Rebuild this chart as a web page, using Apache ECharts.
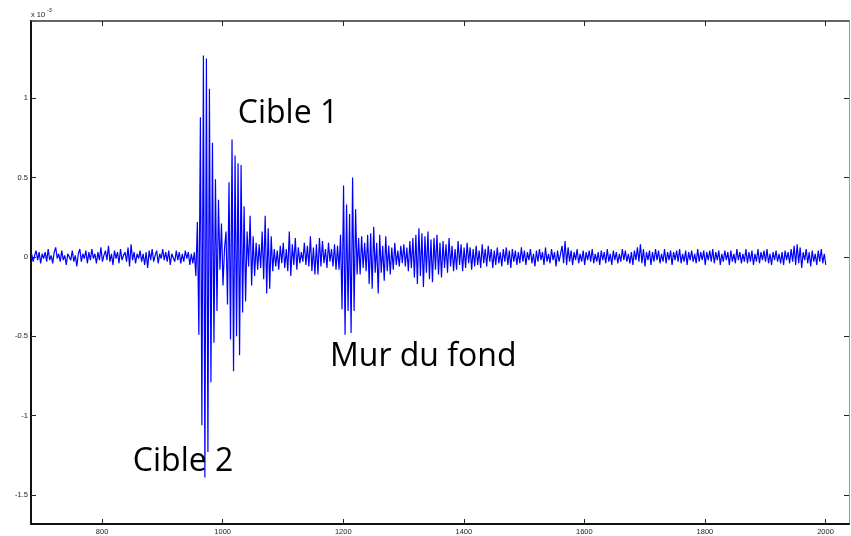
<!DOCTYPE html>
<html>
<head>
<meta charset="utf-8">
<title>Signal</title>
<script src="https://cdn.jsdelivr.net/npm/echarts@6/dist/echarts.min.js"></script>
<style>
  html, body { margin: 0; padding: 0; background: #fff; }
  #chart { width: 851px; height: 536px; }
</style>
</head>
<body>
<div id="chart"></div>
<script>
// Received signal amplitude (x 10^-3), sampled every 2.5 samples.
const sampleStep = 2.5;

// Background noise before the first echoes (starts at sample 683)
const quietLeadStart = 683;
const quietLead = [
  0.02,-0.03,0.01,0.04,-0.02,0.03,-0.04,0.02,-0.01,0.03,-0.03,0.05,-0.02,0.01,-0.04,0.03,0.06,-0.01,0.02,-0.03,0.04,-0.02,0.01,-0.05,0.02,
  0.03,-0.02,0.04,-0.03,0.01,-0.06,0.02,0.05,-0.03,0.02,-0.01,0.04,-0.04,0.03,-0.02,0.05,-0.01,0.02,-0.04,0.03,-0.02,0.06,-0.03,0.01,0.04,
  -0.02,0.07,-0.03,0.02,-0.05,0.04,-0.01,0.03,-0.04,0.05,-0.02,0.01,0.03,-0.03,0.06,-0.06,0.08,-0.02,0.03,-0.04,0.02,-0.01,0.04,-0.03,0.02,
  -0.05,0.03,-0.07,0.04,-0.02,0.05,-0.03,0.01,0.04,-0.04,0.02,-0.01,0.05,-0.02,0.03,-0.03,0.04,-0.05,0.02,0.01,-0.03,0.04,-0.02,0.03,-0.04,
  0.02,-0.03,0.04,-0.01,0.03,-0.05,0.02,-0.04,0.03
];

// Echoes of target 2 and target 1
const targetEchoStart = 955.5;
const targetEcho = [
  -0.12,0.22,-0.49,0.88,-1.06,1.27,-1.39,1.25,-1.23,1.06,-0.79,0.72,-0.54,0.49,-0.34,0.36,-0.08,0.21,-0.18,0.05,
  0.16,-0.30,0.47,-0.52,0.74,-0.72,0.64,-0.50,0.59,-0.62,0.58,-0.35,0.32,-0.28,0.16,-0.06,0.26,-0.18,0.13,-0.12,
  0.09,-0.08,0.08,-0.07,0.16,-0.14,0.26,-0.23,0.18,-0.20,0.13,-0.09
];

// Between the targets and the back wall
const midSpanStart = 1085.5;
const midSpan = [
  0.05,-0.06,0.04,-0.08,0.07,-0.04,0.09,-0.07,0.05,-0.09,0.16,-0.12,0.08,-0.05,0.12,-0.08,0.06,-0.04,0.03,-0.03,
  0.09,-0.05,0.07,-0.06,0.13,-0.09,0.06,-0.11,0.08,-0.11,0.12,-0.06,0.10,-0.04,0.05,-0.07,0.09,-0.03,0.05,-0.06,
  0.08,-0.08,0.07,-0.08
];

// Back wall echo
const wallEchoStart = 1195.5;
const wallEcho = [
  0.14,-0.33,0.45,-0.49,0.33,-0.34,0.27,-0.48,0.50,-0.34,0.30,-0.11,0.12,-0.11,0.13,-0.07,0.09,-0.09,0.14,-0.17,
  0.15,-0.20,0.19,-0.10,0.09,-0.23,0.14,-0.10,0.07
];

// Reverberation tail after the wall
const wallTailStart = 1268;
const wallTail = [
  -0.15,0.13,-0.09,0.07,-0.11,0.06,-0.08,0.09,-0.05,0.04,-0.06,0.07,-0.04,0.08,-0.06,0.06,-0.09,0.10,-0.07,0.12,
  -0.13,0.14,-0.17,0.18,-0.12,0.15,-0.19,0.13,-0.10,0.16,-0.14,0.11,-0.16,0.12,-0.08,0.14,-0.11,0.09,-0.13,0.10,
  -0.07,0.08,-0.10,0.12,-0.06,0.07,-0.09,0.05,-0.08,0.10,-0.05,0.08,-0.09,0.06,-0.07,0.09,-0.04,0.06,-0.08,0.05,
  -0.06,0.07,-0.05,0.04,-0.07,0.08,-0.04,0.05,-0.06,0.07,-0.03,0.05,-0.07,0.04,-0.05,0.06,-0.04,0.03,-0.06,0.05,
  -0.03,0.06,-0.05,0.04,-0.07,0.05,-0.03,0.04,-0.05,0.03,-0.04,0.06,-0.03
];

// Late noise floor
const farNoiseStart = 1500.5;
const farNoise = [
  0.04,-0.05,0.03,-0.02,0.05,-0.04,0.02,-0.06,0.04,-0.03,0.05,-0.02,0.03,-0.05,0.06,-0.03,0.02,-0.04,0.05,-0.02,0.03,-0.06,0.04,-0.03,0.02,
  0.07,-0.04,0.10,-0.05,0.06,-0.03,0.04,-0.05,0.03,-0.02,0.05,-0.04,0.02,-0.03,0.04,-0.05,0.03,-0.02,0.04,-0.03,0.05,-0.04,0.02,-0.03,0.03,
  -0.05,0.04,-0.02,0.03,-0.04,0.05,-0.03,0.02,-0.05,0.04,-0.02,0.03,-0.04,0.02,-0.03,0.05,-0.02,0.04,-0.03,0.02,-0.04,0.03,-0.05,0.04,-0.02,
  0.06,-0.03,0.08,-0.04,0.05,-0.06,0.03,-0.02,0.04,-0.05,0.03,-0.03,0.05,-0.02,0.04,-0.04,0.02,-0.03,0.05,-0.04,0.03,-0.02,0.04,-0.05,0.03,
  -0.02,0.04,-0.03,0.05,-0.04,0.02,-0.03,0.04,-0.05,0.03,-0.02,0.04,-0.03,0.02,-0.04,0.05,-0.03,0.03,-0.02,0.04,-0.05,0.03,-0.02,0.04,-0.03,
  0.05,-0.04,0.03,-0.02,0.04,-0.05,0.02,-0.03,0.04,-0.02,0.03,-0.05,0.04,-0.03,0.02,-0.04,0.05,-0.02,0.03,-0.04,0.02,-0.03,0.05,-0.04,0.03,
  -0.03,0.04,-0.05,0.02,-0.03,0.05,-0.04,0.03,-0.02,0.04,-0.03,0.05,-0.04,0.02,-0.05,0.03,-0.02,0.04,-0.03,0.02,-0.04,0.03,-0.05,0.04,-0.02,
  0.03,-0.04,0.05,-0.03,0.07,-0.05,0.08,-0.04,0.06,-0.07,0.03,-0.02,0.05,-0.04,0.03,-0.06,0.04,-0.03,0.02,-0.05,0.04,-0.03,0.05,-0.04,0.02,
  -0.05
];

// Axis ticks
const xTicks = [800, 1000, 1200, 1400, 1600, 1800, 2000];
const yTicks = [-1.5, -1, -0.5, 0, 0.5, 1];

// Annotations: [text, sample at left edge, amplitude at text middle]
const notes = [
  ['Cible 1', 1025, 0.90],
  ['Mur du fond', 1178, -0.63],
  ['Cible 2', 851, -1.29]
];

function segment(start, values) {
  return values.map((v, i) => [start + i * sampleStep, v]);
}

const signal = [].concat(
  segment(quietLeadStart, quietLead),
  segment(targetEchoStart, targetEcho),
  segment(midSpanStart, midSpan),
  segment(wallEchoStart, wallEcho),
  segment(wallTailStart, wallTail),
  segment(farNoiseStart, farNoise)
);

const chart = echarts.init(document.getElementById('chart'), null, { renderer: 'canvas' });

const labelFont = { fontFamily: 'Liberation Sans, Arial, sans-serif', fontSize: 7.5, color: '#222' };

const xBase = {
  type: 'value', min: 682, max: 2039,
  splitLine: { show: false },
  axisTick: { inside: true, length: 5, customValues: xTicks, lineStyle: { color: '#222', width: 1 } }
};
const yBase = {
  type: 'value', min: -1.683, max: 1.487,
  splitLine: { show: false },
  axisTick: { inside: true, length: 5, customValues: yTicks, lineStyle: { color: '#222', width: 1 } }
};

chart.setOption({
  animation: false,
  backgroundColor: '#fff',
  grid: { left: 31, right: 2, top: 21, bottom: 12, outerBoundsMode: 'none' },
  xAxis: [
    Object.assign({}, xBase, {
      position: 'bottom',
      axisLine: { show: true, onZero: false, lineStyle: { color: '#111', width: 2 } },
      axisLabel: Object.assign({
        show: true, margin: 3.5, customValues: xTicks,
        formatter: v => String(v)
      }, labelFont)
    }),
    Object.assign({}, xBase, {
      position: 'top',
      axisLine: { show: true, onZero: false, lineStyle: { color: '#333', width: 1.5 } },
      axisLabel: { show: false }
    })
  ],
  yAxis: [
    Object.assign({}, yBase, {
      position: 'left',
      axisLine: { show: true, onZero: false, lineStyle: { color: '#111', width: 2 } },
      axisLabel: Object.assign({
        show: true, margin: 3, customValues: yTicks,
        formatter: v => String(v)
      }, labelFont)
    }),
    Object.assign({}, yBase, {
      position: 'right',
      axisLine: { show: true, onZero: false, lineStyle: { color: '#999', width: 1 } },
      axisLabel: { show: false }
    })
  ],
  series: [{
    type: 'line',
    xAxisIndex: 0,
    yAxisIndex: 0,
    data: signal,
    showSymbol: false,
    sampling: 'none',
    lineStyle: { color: '#0000ff', width: 1.2 },
    silent: true
  }]
});

// Text annotations placed through the axis scales
const noteGraphics = notes.map(n => {
  const p = chart.convertToPixel({ xAxisIndex: 0, yAxisIndex: 0 }, [n[1], n[2]]);
  return {
    type: 'text', x: p[0], y: p[1], silent: true, z: 100,
    style: {
      text: n[0],
      font: '32px "Open Sans", "Noto Sans", sans-serif',
      fill: '#000',
      align: 'left',
      verticalAlign: 'middle'
    }
  };
});

chart.setOption({
  graphic: [
    { type: 'text', x: 31, y: 11, style: { text: 'x 10', font: '7.5px "Liberation Sans", Arial, sans-serif', fill: '#222' } },
    { type: 'text', x: 47, y: 7, style: { text: '-3', font: '5.5px "Liberation Sans", Arial, sans-serif', fill: '#222' } }
  ].concat(noteGraphics)
});
</script>
</body>
</html>
